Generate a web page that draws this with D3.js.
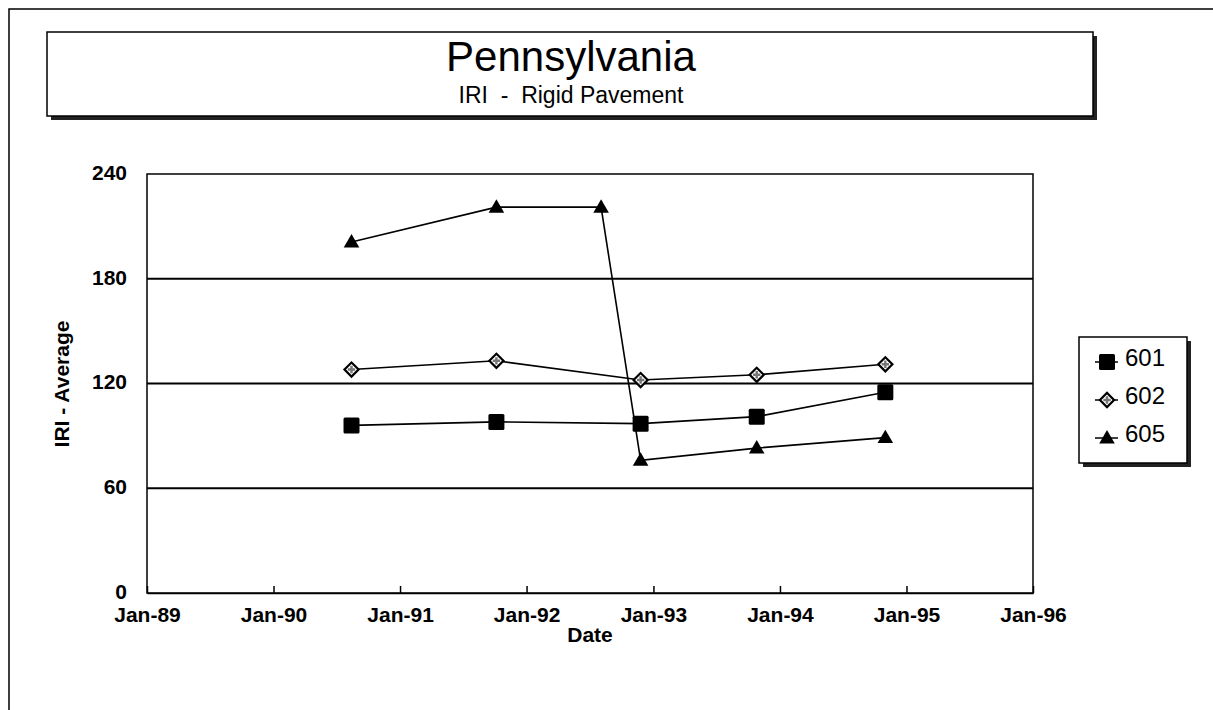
<!DOCTYPE html>
<html lang="en">
 <head>
 <meta http-equiv="Content-Type" content="text/html; charset=UTF-8">
        <title>Pennsylvania IRI - Rigid Pavement</title>
        <script type="text/javascript" src="https://unpkg.com/d3@7/dist/d3.min.js"></script>
        <style>
          body { margin: 0; background: #fff; }
          text { font-family: "Liberation Sans", Arial, sans-serif; fill: #000; }
        </style>
 </head>
 <body>
        <script type="text/javascript">

          // survey dates and IRI averages
          var dates601 = ["1990-08-14", "1991-10-06", "1992-11-25", "1993-10-26", "1994-11-01"];
          var iri601 = [96, 98, 97, 101, 115];
          var dates602 = ["1990-08-14", "1991-10-06", "1992-11-25", "1993-10-26", "1994-11-01"];
          var iri602 = [128, 133, 122, 125, 131];
          var dates605 = ["1990-08-14", "1991-10-06", "1992-08-03", "1992-11-25", "1993-10-26", "1994-11-01"];
          var iri605 = [201, 221, 221, 76, 83, 89];
          var seriesNames = ["601", "602", "605"];
          var yTicks = [0, 60, 120, 180, 240];
          var xTickYears = [1989, 1990, 1991, 1992, 1993, 1994, 1995, 1996];

          var width = 1213, height = 710;
          var plot = { left: 147, top: 174, right: 1033, bottom: 593 };

          var svg = d3.select("body").append("svg")
                      .attr("width", width)
                      .attr("height", height);

          var parse = d3.timeParse("%Y-%m-%d");
          var x = d3.scaleTime()
                    .domain([new Date(1989, 0, 1), new Date(1996, 0, 1)])
                    .range([plot.left, plot.right]);
          var y = d3.scaleLinear().domain([0, 240]).range([plot.bottom, plot.top]);

          // outer frame
          svg.append("path")
             .attr("d", "M9,710 L9,9 L1213,9")
             .attr("fill", "none").attr("stroke", "#000").attr("stroke-width", 1.5);

          // title box with shadow
          svg.append("rect").attr("x", 51).attr("y", 36).attr("width", 1046).attr("height", 84).attr("fill", "#222");
          svg.append("rect").attr("x", 47).attr("y", 32).attr("width", 1046).attr("height", 84)
             .attr("fill", "#fff").attr("stroke", "#000").attr("stroke-width", 1.5);
          svg.append("text").attr("x", 571).attr("y", 71).attr("text-anchor", "middle")
             .style("font-size", "42px").text("Pennsylvania");
          svg.append("text").attr("x", 571).attr("y", 103).attr("text-anchor", "middle")
             .style("font-size", "23px").attr("xml:space", "preserve").text("IRI  -  Rigid Pavement");

          // gridlines
          svg.append("g").selectAll("line")
             .data(yTicks.filter(d => d > 0 && d < 240))
             .enter().append("line")
             .attr("x1", plot.left).attr("x2", plot.right)
             .attr("y1", d => y(d)).attr("y2", d => y(d))
             .attr("stroke", "#000").attr("stroke-width", 2);

          // plot frame
          svg.append("rect")
             .attr("x", plot.left).attr("y", plot.top)
             .attr("width", plot.right - plot.left).attr("height", plot.bottom - plot.top)
             .attr("fill", "none").attr("stroke", "#000").attr("stroke-width", 1.5);

          // axes
          var xAxis = d3.axisBottom(x)
                        .tickValues(xTickYears.map(yr => new Date(yr, 0, 1)))
                        .tickFormat(d3.timeFormat("Jan-%y"))
                        .tickSizeInner(-7).tickSizeOuter(0).tickPadding(14);
          var gx = svg.append("g").attr("transform", "translate(0," + plot.bottom + ")").call(xAxis);
          gx.select(".domain").attr("stroke-width", 1.5);
          gx.selectAll(".tick line").attr("stroke-width", 1.5);
          gx.selectAll("text").style("font-size", "21px").style("font-weight", "bold");

          var yAxis = d3.axisLeft(y).tickValues(yTicks).tickSize(0).tickPadding(20);
          var gy = svg.append("g").attr("transform", "translate(" + plot.left + ",0)").call(yAxis);
          gy.select(".domain").remove();
          gy.selectAll("text").attr("dy", "0.25em").style("font-size", "21px").style("font-weight", "bold");

          svg.append("text").attr("x", 590).attr("y", 642).attr("text-anchor", "middle")
             .style("font-size", "21px").style("font-weight", "bold").text("Date");
          svg.append("text").attr("transform", "translate(69,384) rotate(-90)").attr("text-anchor", "middle")
             .style("font-size", "21px").style("font-weight", "bold").text("IRI - Average");

          // markers
          function drawMarker(g, kind, cx, cy) {
            if (kind === "601") {
              g.append("rect").attr("x", cx - 8).attr("y", cy - 8).attr("width", 16).attr("height", 16)
               .attr("rx", 1.5).attr("fill", "#000");
            } else if (kind === "602") {
              g.append("path")
               .attr("d", d3.symbol().type(d3.symbolSquare).size(100)())
               .attr("transform", "translate(" + cx + "," + cy + ") rotate(45)")
               .attr("fill", "#fff").attr("stroke", "#000").attr("stroke-width", 2.2);
              g.append("path")
               .attr("d", d3.symbol().type(d3.symbolCross).size(30)())
               .attr("transform", "translate(" + cx + "," + cy + ")")
               .attr("fill", "#777");
            } else {
              g.append("path")
               .attr("d", d3.symbol().type(d3.symbolTriangle).size(105)())
               .attr("transform", "translate(" + cx + "," + (cy + 1) + ")")
               .attr("fill", "#000");
            }
          }

          var series = [
            { name: seriesNames[0], dates: dates601, vals: iri601 },
            { name: seriesNames[1], dates: dates602, vals: iri602 },
            { name: seriesNames[2], dates: dates605, vals: iri605 }
          ];

          var line = d3.line().x(d => x(d.date)).y(d => y(d.v));

          series.forEach(function (s) {
            var pts = s.dates.map((dt, i) => ({ date: parse(dt), v: s.vals[i] }));
            var g = svg.append("g");
            g.append("path").datum(pts).attr("d", line)
             .attr("fill", "none").attr("stroke", "#000").attr("stroke-width", 1.6);
            pts.forEach(p => drawMarker(g, s.name, x(p.date), y(p.v)));
          });

          // legend
          var lg = svg.append("g");
          lg.append("rect").attr("x", 1083).attr("y", 341).attr("width", 108).attr("height", 126).attr("fill", "#222");
          lg.append("rect").attr("x", 1079).attr("y", 337).attr("width", 108).attr("height", 126)
            .attr("fill", "#fff").attr("stroke", "#000").attr("stroke-width", 1.5);
          seriesNames.forEach(function (name, i) {
            var cy = 362 + i * 38;
            lg.append("line").attr("x1", 1095).attr("x2", 1118).attr("y1", cy).attr("y2", cy)
              .attr("stroke", "#000").attr("stroke-width", 1.5);
            drawMarker(lg, name, 1107, cy);
            lg.append("text").attr("x", 1125).attr("y", cy + 4)
              .style("font-size", "24px").text(name);
          });

        </script>
    </body>
</html>
